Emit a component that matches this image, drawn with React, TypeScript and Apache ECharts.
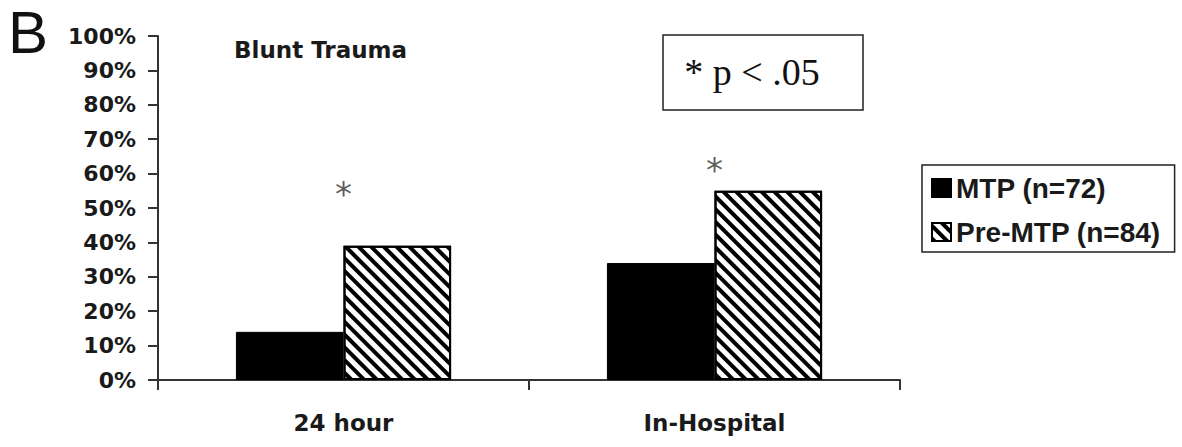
import React, { useEffect, useRef } from "react";
import * as echarts from "echarts";

const categories = ["24 hour", "In-Hospital"];
const seriesNames = ["MTP (n=72)", "Pre-MTP (n=84)"];
const mtpValues = [14, 34];
const preMtpValues = [39, 55];
const asteriskLevels = [54, 61];
const yTicks = { min: 0, max: 100, interval: 10 };
const panelLetter = "B";
const subtitle = "Blunt Trauma";
const pNote = "* p < .05";

export default function App() {
  const ref = useRef<HTMLDivElement>(null);
  useEffect(() => {
    document.body.style.margin = "0";
    const chart = echarts.init(ref.current!, null, { renderer: "svg" });
    const axisColor = "#333";
    const textColor = "#1a1a1a";
    const hatch = {
      symbol: "rect",
      symbolSize: 1,
      color: "#000",
      backgroundColor: "#fff",
      dashArrayX: [1, 0],
      dashArrayY: [3.6, 4.8],
      rotation: Math.PI / 4,
    };
    chart.setOption({
      animation: false,
      backgroundColor: "#fff",
      grid: { left: 158, right: 282, top: 36, bottom: 67, containLabel: false },
      title: {
        text: subtitle,
        left: 229,
        top: 33,
        textStyle: {
          fontFamily: "DejaVu Sans",
          fontWeight: "bold",
          fontSize: 23,
          color: textColor,
        },
      },
      legend: {
        orient: "vertical",
        left: 922,
        top: 165,
        data: seriesNames.map((n) => ({ name: n, icon: "rect" })),
        itemWidth: 19,
        itemHeight: 18,
        itemGap: 16,
        padding: [9, 14, 6, 9],
        borderColor: "#222",
        borderWidth: 1.5,
        textStyle: {
          fontFamily: "Liberation Sans",
          fontWeight: "bold",
          fontSize: 28,
          color: textColor,
        },
        selectedMode: false,
      },
      xAxis: {
        type: "category",
        data: categories,
        axisLine: { lineStyle: { color: axisColor, width: 2 } },
        axisTick: { show: true, alignWithLabel: false, length: 10, lineStyle: { color: axisColor, width: 2 } },
        axisLabel: {
          margin: 31,
          fontFamily: "DejaVu Sans",
          fontWeight: "bold",
          fontSize: 23,
          color: textColor,
        },
        splitLine: { show: false },
      },
      yAxis: {
        type: "value",
        min: yTicks.min,
        max: yTicks.max,
        interval: yTicks.interval,
        axisLine: { show: true, lineStyle: { color: axisColor, width: 2 } },
        axisTick: { show: true, length: 10, lineStyle: { color: axisColor, width: 2 } },
        axisLabel: {
          formatter: "{value}%",
          margin: 22,
          fontFamily: "DejaVu Sans",
          fontWeight: "bold",
          fontSize: 22,
          color: textColor,
        },
        splitLine: { show: false },
      },
      graphic: [
        {
          type: "text",
          left: 8,
          top: 2,
          style: {
            text: panelLetter,
            fontFamily: "Liberation Sans",
            fontSize: 60,
            fill: "#111",
          },
        },
        {
          type: "rect",
          shape: { x: 663, y: 35, width: 200, height: 75 },
          style: { fill: "#fff", stroke: "#222", lineWidth: 1.5 },
        },
        {
          type: "text",
          x: 752,
          y: 72,
          style: {
            text: pNote,
            fontFamily: "Liberation Serif",
            fontSize: 38,
            fill: "#111",
            align: "center",
            verticalAlign: "middle",
          },
        },
      ],
      series: [
        {
          name: seriesNames[0],
          type: "bar",
          data: mtpValues,
          barGap: "0%",
          barCategoryGap: "42%",
          itemStyle: { color: "#000", borderColor: "#000", borderWidth: 1 },
        },
        {
          name: seriesNames[1],
          type: "bar",
          data: preMtpValues,
          itemStyle: { color: "#fff", borderColor: "#000", borderWidth: 2, decal: hatch },
        },
        {
          name: "sig",
          type: "scatter",
          data: asteriskLevels,
          symbolSize: 0,
          silent: true,
          label: {
            show: true,
            position: "inside",
            formatter: "*",
            fontFamily: "DejaVu Sans",
            fontSize: 34,
            color: "#333",
          },
        },
      ],
    });
    return () => chart.dispose();
  }, []);
  return <div ref={ref} style={{ position: "absolute", left: 0, top: 0, width: 1182, height: 447 }} />;
}
